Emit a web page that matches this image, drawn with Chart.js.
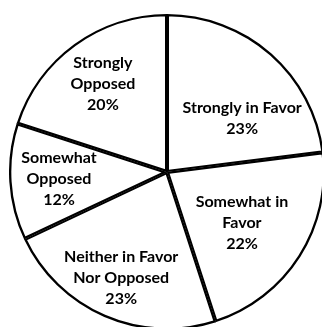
<!DOCTYPE html>
<html>
<head>
<meta charset="utf-8">
<script src="https://cdn.jsdelivr.net/npm/chart.js@4"></script>
<style>
  html, body { margin: 0; padding: 0; background: #fff; overflow: hidden; width: 322px; height: 327px; }
  #grafico { position: absolute; left: 9px; top: 14px; }
</style>
</head>
<body>
<canvas id="grafico" width="316" height="316"></canvas>
<script>
// categories (text lines as printed inside each slice)
var categorias = [
    ['Strongly in Favor'],
    ['Somewhat in', 'Favor'],
    ['Neither in Favor', 'Nor Opposed'],
    ['Somewhat', 'Opposed'],
    ['Strongly', 'Opposed']
];
var valores = [23, 22, 23, 12, 20];

// where each label sits: shift from the slice mid angle (deg) and share of the radius
var desvioAngulo = [13, 2, 0, 0, 0];
var distRaio = [0.585, 0.575, 0.73, 0.685, 0.69];

var rotulos = {
    id: 'rotulos',
    afterDatasetsDraw: function (chart) {
        var ctx = chart.ctx;
        var arcos = chart.getDatasetMeta(0).data;
        ctx.save();
        ctx.fillStyle = '#000';
        ctx.font = 'bold 16px Lato';
        ctx.textAlign = 'center';
        ctx.textBaseline = 'middle';
        arcos.forEach(function (arco, i) {
            var meio = (arco.startAngle + arco.endAngle) / 2 + desvioAngulo[i] * Math.PI / 180;
            var r = arco.outerRadius * distRaio[i];
            var x = arco.x + Math.cos(meio) * r;
            var y = arco.y + Math.sin(meio) * r;
            var linhas = categorias[i].concat([valores[i] + '%']);
            var alt = 21;
            var y0 = y - (linhas.length - 1) * alt / 2;
            linhas.forEach(function (t, k) {
                ctx.fillText(t, x, y0 + k * alt);
            });
        });
        ctx.restore();
    }
};

var ctx = document.querySelector('#grafico').getContext('2d');
var pizza = new Chart(ctx, {
    type: 'pie',
    data: {
        labels: categorias.map(function (c) { return c.join(' '); }),
        datasets: [{
            data: valores,
            backgroundColor: '#ffffff',
            borderColor: '#000000',
            borderWidth: 2,
            borderAlign: 'inner',
            hoverOffset: 0
        }]
    },
    options: {
        responsive: false,
        animation: false,
        devicePixelRatio: 1,
        events: [],
        plugins: {
            legend: { display: false },
            tooltip: { enabled: false }
        }
    },
    plugins: [rotulos]
});
</script>
</body>
</html>
